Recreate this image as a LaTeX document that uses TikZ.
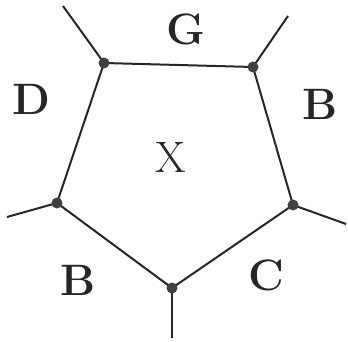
\documentclass[tikz,border=0pt]{standalone}
\begin{document}
\begin{tikzpicture}[x=1pt,y=-1pt,
  edge/.style={line width=2pt,draw=black!85},
  vdot/.style={circle,fill=black!75,inner sep=0pt,minimum size=11pt},
  lbl/.style={font=\fontsize{44}{44}\selectfont\bfseries,text=black!85}]
\useasboundingbox (0,0) rectangle (348,342);
\coordinate (tl) at (104,63);
\coordinate (tr) at (253,67);
\coordinate (r) at (293,205);
\coordinate (b) at (172,288);
\coordinate (l) at (57,203);
\coordinate (etl) at (63,6);
\coordinate (etr) at (288,16);
\coordinate (er) at (346,224);
\coordinate (eb) at (172,338);
\coordinate (el) at (7,217);
\draw[edge] (tl) -- (tr) -- (r) -- (b) -- (l) -- cycle;
\draw[edge] (tl) -- (etl);
\draw[edge] (tr) -- (etr);
\draw[edge] (r) -- (er);
\draw[edge] (b) -- (eb);
\draw[edge] (l) -- (el);
\foreach \p in {tl,tr,r,b,l} \node[vdot] (d\p) at (\p) {};
\node[lbl] (G) at (186,29) {G};
\node[lbl] (D) at (31,99) {D};
\node[lbl] (B1) at (320,104) {B};
\node[lbl,font=\fontsize{44}{44}\selectfont] (X) at (171,157) {X};
\node[lbl] (C) at (266,275) {C};
\node[lbl] (B2) at (78,280) {B};
\end{tikzpicture}
\end{document}
